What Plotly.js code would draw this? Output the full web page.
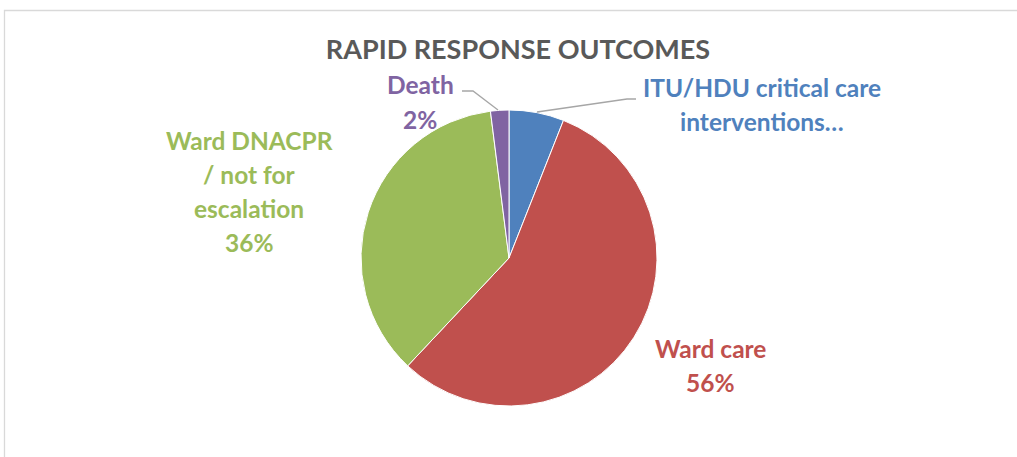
<!DOCTYPE html>
<html><head><meta charset="utf-8">
<script src="https://cdn.plot.ly/plotly-3.0.1.min.js"></script>
<style>html,body{margin:0;padding:0;background:#fff}#chart{width:1017px;height:457px}</style>
</head><body><div id="chart"></div>
<script>
var categories = ["ITU/HDU critical care interventions", "Ward care", "Ward DNACPR / not for escalation", "Death"];
var values = [6, 56, 36, 2];
var colors = ["#4f81bd", "#c0504d", "#9bbb59", "#8064a2"];
var labelLines = [["ITU/HDU critical care", "interventions\u2026"], ["Ward care"], ["Ward DNACPR", "/ not for", "escalation"], ["Death"]];
var showPct = [false, true, true, true];

var W = 1017, H = 457;
function px(x){return x / W;}
function py(y){return 1 - y / H;}

var total = values.reduce(function(a,b){return a+b;},0);
// label anchor (center x, first line y) and line spacing in pixels
var labelPos = [[762, 88], [710, 348], [249, 140], [420, 85]];
var lineGap = 34;
var fontFam = "Lato, 'Open Sans', sans-serif";

var annotations = [];
categories.forEach(function(c, i){
  var lines = labelLines[i].slice();
  if (showPct[i]) lines.push(Math.round(values[i] / total * 100) + "%");
  lines.forEach(function(t, j){
    annotations.push({
      xref: "paper", yref: "paper", x: px(labelPos[i][0]), y: py(labelPos[i][1] + j * lineGap),
      text: "<b>" + t + "</b>", showarrow: false, xanchor: "center", yanchor: "middle",
      font: {family: fontFam, size: 24.5, color: colors[i]}
    });
  });
});

var cx = 509, cy = 258, r = 148;
var shapes = [
  {type: "rect", xref: "paper", yref: "paper", x0: px(4.5), y0: py(470), x1: px(1030), y1: py(10.5),
   line: {color: "#d9d9d9", width: 1.3}, fillcolor: "rgba(0,0,0,0)", layer: "below"},
  {type: "path", xref: "paper", yref: "paper",
   path: "M " + px(537) + "," + py(112) + " L " + px(627) + "," + py(99) + " L " + px(636) + "," + py(99),
   line: {color: "#a6a6a6", width: 1.3}},
  {type: "path", xref: "paper", yref: "paper",
   path: "M " + px(462) + "," + py(91) + " L " + px(473) + "," + py(91) + " L " + px(498) + "," + py(110),
   line: {color: "#a6a6a6", width: 1.3}}
];

var data = [{
  type: "pie", labels: categories, values: values, sort: false, direction: "clockwise", rotation: 0,
  marker: {colors: colors, line: {color: "#ffffff", width: 1}},
  textinfo: "none", hoverinfo: "label+percent", showlegend: false,
  domain: {x: [px(cx - r), px(cx + r)], y: [py(cy + r), py(cy - r)]}
}];

var layout = {
  width: W, height: H, margin: {l: 0, r: 0, t: 0, b: 0},
  paper_bgcolor: "#ffffff", plot_bgcolor: "#ffffff",
  title: {text: "<b>RAPID RESPONSE OUTCOMES</b>", x: px(518), xanchor: "center", y: py(50), yanchor: "middle",
          font: {family: fontFam, size: 27, color: "#595959"}},
  annotations: annotations, shapes: shapes
};
Plotly.newPlot("chart", data, layout, {displayModeBar: false, staticPlot: true});
</script></body></html>
